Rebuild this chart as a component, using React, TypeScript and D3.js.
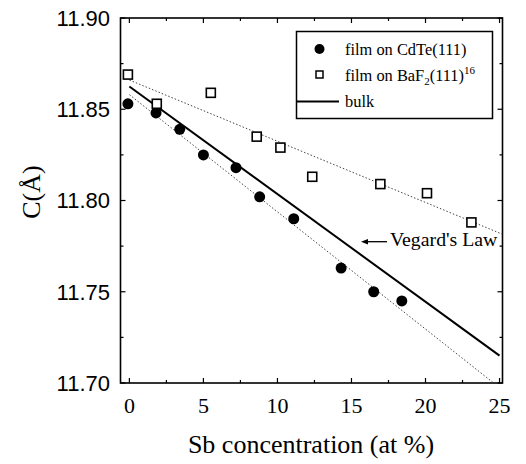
import * as d3 from "d3";

// film on CdTe(111)  (filled circles)
const cdteX = [-0.1, 1.8, 3.4, 5.0, 7.2, 8.8, 11.1, 14.3, 16.5, 18.4];
const cdteY = [11.853, 11.848, 11.839, 11.825, 11.818, 11.802, 11.790, 11.763, 11.750, 11.745];

// film on BaF2(111)  (open squares)
const bafX = [-0.1, 1.85, 5.5, 8.6, 10.2, 12.35, 16.95, 20.1, 23.1];
const bafY = [11.869, 11.853, 11.859, 11.835, 11.829, 11.813, 11.809, 11.804, 11.788];

// straight lines: Vegard's law (bulk) and dotted fits
const bulkLine: [number, number][] = [[0, 11.8625], [25, 11.715]];
const bafFit: [number, number][] = [[0, 11.866], [25.2, 11.7815]];
const cdteFit: [number, number][] = [[0, 11.858], [24.6, 11.70]];

const xMajor = [0, 5, 10, 15, 20, 25];
const xMinor = [2.5, 7.5, 12.5, 17.5, 22.5];
const yMajor = [11.70, 11.75, 11.80, 11.85, 11.90];
const yMinor = [11.725, 11.775, 11.825, 11.875];

const W = 526;
const H = 464;
const X0 = 120.5, X1 = 502.5, Y0 = 18, Y1 = 383;

const serif = "'Liberation Serif', 'Times New Roman', serif";
const sans = "'Liberation Sans', Arial, sans-serif";

export default function App() {
  const x = d3.scaleLinear().domain([-0.6, 25.2]).range([X0, X1]);
  const y = d3.scaleLinear().domain([11.70, 11.90]).range([Y1, Y0]);
  const line = d3.line<[number, number]>().x(d => x(d[0])).y(d => y(d[1]));

  const MAJ = 5, MIN = 3;

  return (
    <svg width={W} height={H} style={{ position: "absolute", left: 0, top: 0, background: "#fff" }}>
      <defs>
        <clipPath id="plot">
          <rect x={X0} y={Y0} width={X1 - X0} height={Y1 - Y0} />
        </clipPath>
      </defs>

      {/* frame */}
      <rect x={X0} y={Y0} width={X1 - X0} height={Y1 - Y0} fill="none" stroke="#000" strokeWidth={1.6} />

      {/* x ticks, bottom and top, inward */}
      {xMajor.map(v => (
        <g key={"xM" + v}>
          <line x1={x(v)} x2={x(v)} y1={Y1} y2={Y1 - MAJ} stroke="#000" strokeWidth={1.2} />
          <line x1={x(v)} x2={x(v)} y1={Y0} y2={Y0 + MAJ} stroke="#000" strokeWidth={1.2} />
          <text x={x(v)} y={413} textAnchor="middle" fontFamily={serif} fontSize={22}>{v}</text>
        </g>
      ))}
      {xMinor.map(v => (
        <g key={"xm" + v}>
          <line x1={x(v)} x2={x(v)} y1={Y1} y2={Y1 - MIN} stroke="#000" strokeWidth={1.2} />
          <line x1={x(v)} x2={x(v)} y1={Y0} y2={Y0 + MIN} stroke="#000" strokeWidth={1.2} />
        </g>
      ))}

      {/* y ticks, left and right, inward */}
      {yMajor.map(v => (
        <g key={"yM" + v}>
          <line x1={X0} x2={X0 + MAJ} y1={y(v)} y2={y(v)} stroke="#000" strokeWidth={1.2} />
          <line x1={X1} x2={X1 - MAJ} y1={y(v)} y2={y(v)} stroke="#000" strokeWidth={1.2} />
          <text x={110} y={y(v)} dy="0.36em" textAnchor="end" fontFamily={sans} fontSize={22}>{v.toFixed(2)}</text>
        </g>
      ))}
      {yMinor.map(v => (
        <g key={"ym" + v}>
          <line x1={X0} x2={X0 + MIN} y1={y(v)} y2={y(v)} stroke="#000" strokeWidth={1.2} />
          <line x1={X1} x2={X1 - MIN} y1={y(v)} y2={y(v)} stroke="#000" strokeWidth={1.2} />
        </g>
      ))}

      {/* axis titles */}
      <text x={311} y={453} textAnchor="middle" fontFamily={serif} fontSize={26}>Sb concentration (at %)</text>
      <text transform="translate(40,192) rotate(-90)" textAnchor="middle" fontFamily={serif} fontSize={26}>C(Å)</text>

      {/* lines */}
      <g clipPath="url(#plot)">
        <path d={line(bafFit) ?? ""} fill="none" stroke="#444" strokeWidth={1} strokeDasharray="1.5,2" />
        <path d={line(cdteFit) ?? ""} fill="none" stroke="#444" strokeWidth={1} strokeDasharray="1.5,2" />
        <path d={line(bulkLine) ?? ""} fill="none" stroke="#000" strokeWidth={2} />
      </g>

      {/* data */}
      {cdteX.map((v, i) => (
        <circle key={"c" + i} cx={x(v)} cy={y(cdteY[i])} r={5.5} fill="#000" />
      ))}
      {bafX.map((v, i) => (
        <rect key={"s" + i} x={x(v) - 4.5} y={y(bafY[i]) - 4.5} width={9} height={9}
          fill="#fff" stroke="#000" strokeWidth={1.6} />
      ))}

      {/* Vegard's law annotation */}
      <line x1={365} x2={387} y1={241.7} y2={241.7} stroke="#000" strokeWidth={1.3} />
      <path d="M361,241.7 L368,239 L368,244.4 Z" fill="#000" />
      <text x={390} y={246} fontFamily={serif} fontSize={19.8}>Vegard's Law</text>

      {/* legend */}
      <rect x={296.5} y={31.5} width={196} height={87} fill="#fff" stroke="#000" strokeWidth={1.5} />
      <circle cx={319.5} cy={49} r={5} fill="#000" />
      <text x={345} y={54.5} fontFamily={serif} fontSize={16.4}>film on CdTe(111)</text>
      <rect x={316} y={71} width={7} height={7} fill="#fff" stroke="#000" strokeWidth={1.5} />
      <text x={345} y={80.5} fontFamily={serif} fontSize={16.4}>
        film on BaF<tspan fontSize={11} dy={4}>2</tspan><tspan dy={-4}>(111)</tspan><tspan fontSize={11} dy={-7}>16</tspan>
      </text>
      <line x1={297} x2={339} y1={101.5} y2={101.5} stroke="#000" strokeWidth={2} />
      <text x={345} y={106.5} fontFamily={serif} fontSize={16.4}>bulk</text>
    </svg>
  );
}
